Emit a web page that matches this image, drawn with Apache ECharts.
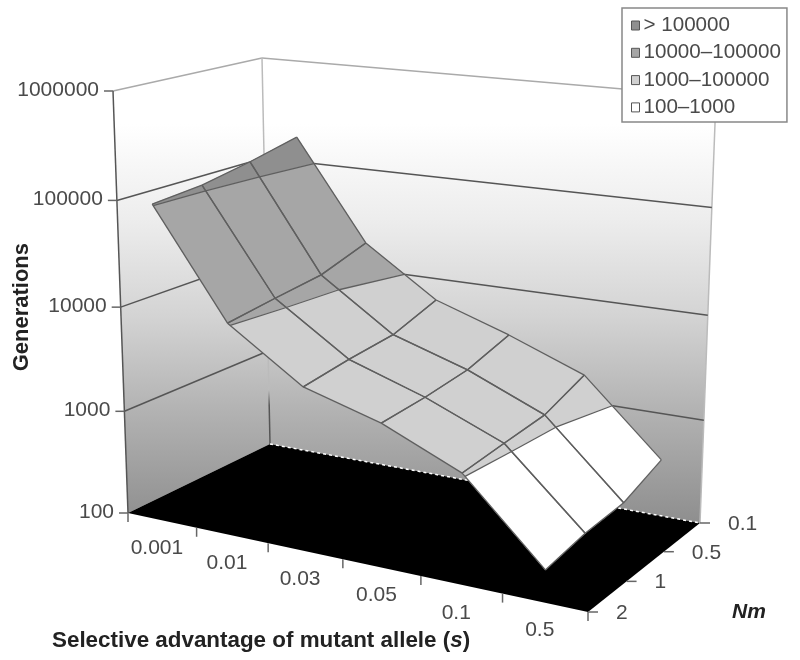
<!DOCTYPE html>
<html>
<head>
<meta charset="utf-8">
<style>html,body{margin:0;padding:0;background:#fff}#chart{width:800px;height:660px}</style>
<script src="https://cdn.jsdelivr.net/npm/echarts@6/dist/echarts.min.js"></script>
</head>
<body>
<div id="chart"></div>
<script>
// categories
var sLabels = ['0.001', '0.01', '0.03', '0.05', '0.1', '0.5'];
var nmLabels = ['0.1', '0.5', '1', '2'];
var yTicks = [100, 1000, 10000, 100000, 1000000];

// generations, one list per Nm
var genNm01 = [176000, 18400, 6110, 3480, 1810, 355];
var genNm05 = [137000, 13200, 4360, 2580, 1260, 248];
var genNm1 = [112000, 11800, 4000, 2320, 1160, 234];
var genNm2 = [103000, 10400, 3520, 2200, 1060, 199];

var bandNames = ['> 100000', '10000\u2013100000', '1000\u2013100000', '100\u20131000'];
var bandLow = [5, 4, 3, 2];
var bandHigh = [7, 5, 4, 3];
var bandColors = ['#8f8f8f', '#a6a6a6', '#d0d0d0', '#ffffff'];

var gens = [genNm01, genNm05, genNm1, genNm2];

// box corners in chart units, [u][v] at w=0 and w=1
var floorBack = [[270, 444], [700, 523]];
var floorFront = [[128, 513], [588, 612]];
var topBack = [[262, 58], [716, 97]];
var topFront = [[113, 91], [599, 149]];

function warp(t, k) {
    return t / (1 + k * (1 - t));
}

function mix(a, b, t) {
    return [a[0] + (b[0] - a[0]) * t, a[1] + (b[1] - a[1]) * t];
}

// u along s, v from back (Nm 0.1) to front (Nm 2), w up the log axis
function project(u, v, w) {
    var uu = warp(u, 0.141), vv = warp(v, 0.05), ww = warp(w, 0.05);
    var bottom = mix(mix(floorBack[0], floorBack[1], uu), mix(floorFront[0], floorFront[1], uu), vv);
    var top = mix(mix(topBack[0], topBack[1], uu), mix(topFront[0], topFront[1], uu), vv);
    return mix(bottom, top, ww);
}

function logToW(lg) {
    return (lg - 2) / 4;
}

function nodeU(i) {
    return (i + 0.5) / sLabels.length;
}

function nodeV(j) {
    return j / (nmLabels.length - 1);
}

function toPx(api, u, v, lg) {
    return api.coord(project(u, v, logToW(lg)));
}

// keep the part of a polygon on one side of a level
function clipLevel(poly, level, keepAbove) {
    var out = [];
    for (var n = 0; n < poly.length; n++) {
        var a = poly[n], b = poly[(n + 1) % poly.length];
        var aIn = keepAbove ? a[2] >= level : a[2] <= level;
        var bIn = keepAbove ? b[2] >= level : b[2] <= level;
        if (aIn) out.push(a);
        if (aIn !== bIn) {
            var t = (level - a[2]) / (b[2] - a[2]);
            out.push([a[0] + (b[0] - a[0]) * t, a[1] + (b[1] - a[1]) * t, level]);
        }
    }
    return out;
}

var cellRows = [];
for (var j = 0; j < nmLabels.length - 1; j++) {
    for (var i = 0; i < sLabels.length - 1; i++) {
        cellRows.push([i, j,
            Math.log10(gens[j][i]), Math.log10(gens[j][i + 1]),
            Math.log10(gens[j + 1][i + 1]), Math.log10(gens[j + 1][i])]);
    }
}

function cellPoly(api) {
    var i = api.value(0), j = api.value(1);
    return [
        [nodeU(i), nodeV(j), api.value(2)],
        [nodeU(i + 1), nodeV(j), api.value(3)],
        [nodeU(i + 1), nodeV(j + 1), api.value(4)],
        [nodeU(i), nodeV(j + 1), api.value(5)]
    ];
}

function line(p, q, color, width, dash) {
    return {
        type: 'line',
        shape: { x1: p[0], y1: p[1], x2: q[0], y2: q[1] },
        style: { stroke: color, lineWidth: width, lineDash: dash || null }
    };
}

function label(text, x, y, align) {
    return {
        type: 'text',
        style: {
            x: x, y: y, text: text, fill: '#4a4a4a', textAlign: align, textVerticalAlign: 'middle',
            font: '21px "Liberation Sans", Arial, sans-serif'
        }
    };
}

function renderWalls(params, api) {
    var yTop = api.coord([0, 58])[1], yBottom = api.coord([0, 530])[1];
    var fill = new echarts.graphic.LinearGradient(0, yTop, 0, yBottom, [
        { offset: 0, color: '#ffffff' },
        { offset: 0.14, color: '#ffffff' },
        { offset: 0.35, color: '#ececec' },
        { offset: 0.55, color: '#d3d3d3' },
        { offset: 0.75, color: '#b2b2b2' },
        { offset: 1, color: '#8c8c8c' }
    ], true);
    var left = [project(0, 1, 0), project(0, 0, 0), project(0, 0, 1), project(0, 1, 1)].map(api.coord);
    var back = [project(0, 0, 0), project(1, 0, 0), project(1, 0, 1), project(0, 0, 1)].map(api.coord);
    var floor = [project(0, 1, 0), project(0, 0, 0), project(1, 0, 0), project(1, 1, 0)].map(api.coord);
    // the back corner only darkens just above the floor
    var cornerStroke = new echarts.graphic.LinearGradient(0, back[3][1], 0, back[0][1], [
        { offset: 0, color: '#bbbbbb' },
        { offset: 0.86, color: '#bbbbbb' },
        { offset: 0.9, color: '#555555' },
        { offset: 1, color: '#555555' }
    ], true);
    var kids = [
        { type: 'polygon', shape: { points: left }, style: { fill: fill } },
        { type: 'polygon', shape: { points: back }, style: { fill: fill } }
    ];
    // top edge and corners of the walls
    kids.push(line(left[3], left[2], '#aaaaaa', 1.5));
    kids.push(line(back[2], back[3], '#aaaaaa', 1.5));
    kids.push(line(back[0], back[3], cornerStroke, 1.5));
    kids.push(line(back[1], back[2], '#bbbbbb', 1.5));
    kids.push(line(left[0], left[3], '#555555', 1.5));
    kids.push({ type: 'polygon', shape: { points: floor }, style: { fill: '#000000' } });
    kids.push(line(back[0], back[1], '#ffffff', 1.5, [3, 3]));
    return { type: 'group', children: kids };
}

function renderYTick(params, api) {
    var lg = Math.log10(yTicks[api.value(0)]);
    var a = toPx(api, 0, 1, lg), b = toPx(api, 0, 0, lg), c = toPx(api, 1, 0, lg);
    var kids = [
        line([a[0] - 9, a[1]], a, '#666666', 1.5)
    ];
    if (api.value(0) > 0 && api.value(0) < yTicks.length - 1) {
        kids.push(line(a, b, '#555555', 1.5));
        kids.push(line(b, c, '#555555', 1.5));
    }
    kids.push(label(String(yTicks[api.value(0)]), a[0] - 14, a[1] - 1, 'right'));
    return { type: 'group', children: kids };
}

function renderBand(index) {
    return function (params, api) {
        var poly = clipLevel(clipLevel(cellPoly(api), bandLow[index], true), bandHigh[index], false);
        if (poly.length < 3) return null;
        return {
            type: 'polygon',
            shape: { points: poly.map(function (p) { return toPx(api, p[0], p[1], p[2]); }) },
            style: { fill: bandColors[index], stroke: bandColors[index], lineWidth: 0.5 }
        };
    };
}

function renderCellLines(params, api) {
    var poly = cellPoly(api);
    var kids = [];
    var px = poly.map(function (p) { return toPx(api, p[0], p[1], p[2]); });
    for (var n = 0; n < 4; n++) {
        kids.push(line(px[n], px[(n + 1) % 4], '#5f5f5f', 1.3));
    }
    // contour where the surface crosses a band boundary
    [3, 4, 5].forEach(function (level) {
        var hits = [];
        for (var n = 0; n < 4; n++) {
            var a = poly[n], b = poly[(n + 1) % 4];
            if ((a[2] - level) * (b[2] - level) < 0) {
                var t = (level - a[2]) / (b[2] - a[2]);
                hits.push(toPx(api, a[0] + (b[0] - a[0]) * t, a[1] + (b[1] - a[1]) * t, level));
            }
        }
        if (hits.length === 2) kids.push(line(hits[0], hits[1], '#5f5f5f', 1.3));
    });
    return { type: 'group', children: kids };
}

function renderSTick(params, api) {
    var n = api.value(0);
    var a = toPx(api, n / sLabels.length, 1, 2);
    var kids = [line(a, [a[0], a[1] + 9], '#666666', 1.5)];
    if (n < sLabels.length) {
        var c = toPx(api, nodeU(n), 1, 2);
        kids.push(label(sLabels[n], c[0] - 5, c[1] + 28, 'center'));
    }
    return { type: 'group', children: kids };
}

function renderNmTick(params, api) {
    var n = api.value(0);
    var a = toPx(api, 1, nodeV(n), 2);
    return {
        type: 'group',
        children: [
            line(a, [a[0] + 10, a[1]], '#666666', 1.5),
            label(nmLabels[n], a[0] + 28, a[1] + 1, 'left')
        ]
    };
}

function indexRows(count) {
    var rows = [];
    for (var n = 0; n < count; n++) rows.push([n]);
    return rows;
}

function customSeries(name, data, renderItem, z) {
    return {
        name: name,
        type: 'custom',
        coordinateSystem: 'cartesian2d',
        data: data,
        renderItem: renderItem,
        silent: true,
        clip: false,
        z: z,
        animation: false
    };
}

var series = [
    customSeries('walls', [[0]], renderWalls, 1),
    customSeries('yTicks', indexRows(yTicks.length), renderYTick, 2)
];
bandNames.forEach(function (name, index) {
    var s = customSeries(name, cellRows, renderBand(index), 3);
    s.itemStyle = { color: bandColors[index] };
    series.push(s);
});
series.push(customSeries('cellLines', cellRows, renderCellLines, 4));
series.push(customSeries('sTicks', indexRows(sLabels.length + 1), renderSTick, 5));
series.push(customSeries('nmTicks', indexRows(nmLabels.length), renderNmTick, 5));

var chart = echarts.init(document.getElementById('chart'), null, { renderer: 'canvas' });
var option = {
    backgroundColor: '#fff',
    animation: false,
    grid: { left: 0, right: 0, top: 0, bottom: 0 },
    xAxis: { type: 'value', min: 0, max: 800, show: false },
    yAxis: { type: 'value', min: 0, max: 660, inverse: true, show: false },
    legend: {
        left: 622,
        top: 8,
        orient: 'vertical',
        align: 'left',
        data: bandNames,
        selectedMode: false,
        backgroundColor: '#fff',
        borderColor: '#888',
        borderWidth: 1.5,
        padding: [7, 6, 4, 9],
        itemWidth: 8,
        itemHeight: 9,
        itemGap: 6.3,
        icon: 'rect',
        itemStyle: { borderColor: '#555', borderWidth: 1 },
        textStyle: {
            color: '#4a4a4a', fontSize: 20.6, padding: [0, 0, 0, -1],
            fontFamily: '"Liberation Sans", Arial, sans-serif'
        },
        z: 10
    },
    graphic: [
        {
            type: 'text',
            left: 52,
            top: 630,
            z: 10,
            style: {
                text: '{b|Selective advantage of mutant allele (}{i|s}{b|)}',
                rich: {
                    b: { font: 'bold 22.4px "Liberation Sans", Arial, sans-serif', fill: '#222' },
                    i: { font: 'italic bold 22.4px "Liberation Sans", Arial, sans-serif', fill: '#222' }
                }
            }
        },
        {
            type: 'text',
            left: 11,
            top: 243,
            rotation: Math.PI / 2,
            z: 10,
            style: {
                text: 'Generations',
                fill: '#222',
                font: 'bold 22px "Liberation Sans", Arial, sans-serif'
            }
        },
        {
            type: 'text',
            left: 732,
            top: 602,
            z: 10,
            style: {
                text: 'Nm',
                fill: '#222',
                font: 'italic bold 21px "Liberation Sans", Arial, sans-serif'
            }
        }
    ],
    series: series
};
chart.setOption(option);
</script>
</body>
</html>
